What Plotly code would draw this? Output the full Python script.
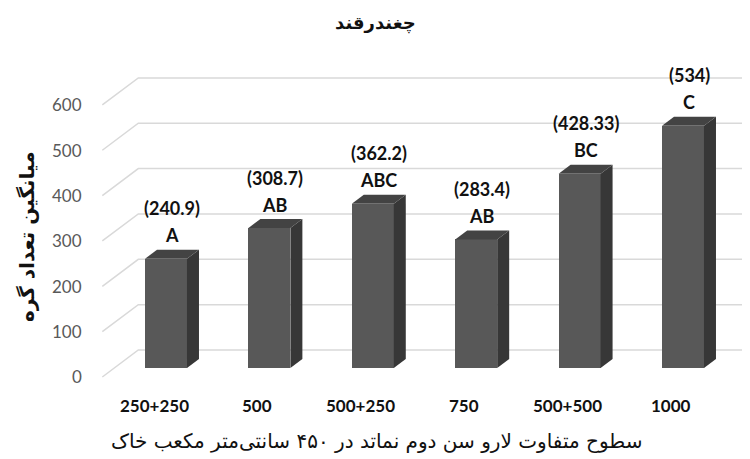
import plotly.graph_objects as go

# ---- data ----
categories = ["250+250", "500", "500+250", "750", "500+500", "1000"]
values = [240.9, 308.7, 362.2, 283.4, 428.33, 534]
value_labels = ["(240.9)", "(308.7)", "(362.2)", "(283.4)", "(428.33)", "(534)"]
letters = ["A", "AB", "ABC", "AB", "BC", "C"]
y_ticks = [0, 100, 200, 300, 400, 500, 600]

title_text = "چغندرقند"
y_title = "میانگین تعداد گره"
x_title = "سطوح متفاوت لارو سن دوم نماتد در ۴۵۰ سانتی‌متر مکعب خاک"

# ---- page geometry (page has 8px body margin) ----
OFF = 8
W, H = 750 - OFF, 459 - OFF
X0_PX, X_STEP = 166, 103.4      # first bar centre and bar spacing (page px)
Y0_PX, Y_SCALE = 368, 0.4535    # zero level of bar front plane and px per unit

# ---- 3D projection helpers (oblique view, depth d from 0=front to 1=back) ----
SX = 0.348    # full-depth x shift in category units
SY = 59.5     # full-depth y shift in value units
D_BAR0, D_BAR1 = 1 / 3, 2 / 3
BAR_W = 0.406


def proj(xc, v, d):
    return xc + SX * (d - D_BAR0), v + SY * (d - D_BAR0)


def px(xp):
    return (xp - OFF) / W


def py(yp):
    return 1 - (yp - OFF) / H


fig = go.Figure()

# gridlines: left side-wall diagonals and back-wall horizontals
x_left, x_right = -0.5, 5.5
shapes = []
for t in y_ticks:
    x0, y0 = proj(x_left, t, 0)
    x1, y1 = proj(x_left, t, 1)
    x2, y2 = proj(x_right, t, 1)
    shapes.append(dict(type="path", xref="x", yref="y", layer="below",
                       path=f"M{x0},{y0} L{x1},{y1} L{x2},{y2}",
                       line=dict(color="#d9d9d9", width=1.5)))

# front faces of bars
fig.add_trace(go.Bar(x=list(range(len(values))), y=values, width=BAR_W,
                     marker=dict(color="#585858", line=dict(width=0)),
                     hoverinfo="skip", showlegend=False))

# side and top faces
for i, v in enumerate(values):
    xl, xr = i - BAR_W / 2, i + BAR_W / 2
    p = [proj(xr, 0, D_BAR0), proj(xr, 0, D_BAR1), proj(xr, v, D_BAR1), proj(xr, v, D_BAR0)]
    fig.add_trace(go.Scatter(x=[q[0] for q in p] + [p[0][0]], y=[q[1] for q in p] + [p[0][1]],
                             fill="toself", fillcolor="#373737", mode="lines",
                             line=dict(width=0, color="#373737"),
                             hoverinfo="skip", showlegend=False))
    p = [proj(xl, v, D_BAR0), proj(xr, v, D_BAR0), proj(xr, v, D_BAR1), proj(xl, v, D_BAR1)]
    fig.add_trace(go.Scatter(x=[q[0] for q in p] + [p[0][0]], y=[q[1] for q in p] + [p[0][1]],
                             fill="toself", fillcolor="#434343", mode="lines",
                             line=dict(width=0, color="#434343"),
                             hoverinfo="skip", showlegend=False))

annotations = []
lab_font = dict(family="Lato, 'DejaVu Sans', sans-serif", size=18, color="#111111")
for i, v in enumerate(values):
    cx, cy = proj(i, v, 0.5)
    annotations.append(dict(x=cx, y=cy, xref="x", yref="y", text=f"<b>{letters[i]}</b>",
                            showarrow=False, yanchor="middle", xanchor="center",
                            yshift=19, font=lab_font))
    annotations.append(dict(x=cx, y=cy, xref="x", yref="y", text=f"<b>{value_labels[i]}</b>",
                            showarrow=False, yanchor="middle", xanchor="center",
                            yshift=46, font=lab_font))
    fx, fy = proj(i, 0, 0)
    annotations.append(dict(x=fx, y=fy, xref="x", yref="y", text=f"<b>{categories[i]}</b>",
                            showarrow=False, yanchor="middle", xanchor="center",
                            yshift=-29, font=dict(family="Lato, sans-serif", size=17, color="#111111")))

for t in y_ticks:
    fx, fy = proj(x_left, t, 0)
    annotations.append(dict(x=fx, y=fy, xref="x", yref="y", text=str(t),
                            showarrow=False, yanchor="middle", xanchor="right", xshift=-18,
                            font=dict(family="Lato, sans-serif", size=17, color="#595959")))

annotations.append(dict(x=px(375), y=py(23), xref="paper", yref="paper",
                        text=f"<b>{title_text}</b>", showarrow=False,
                        xanchor="center", yanchor="middle",
                        font=dict(family="'DejaVu Sans', sans-serif", size=18, color="#111111")))
annotations.append(dict(x=px(27), y=py(237), xref="paper", yref="paper",
                        text=f"<b>{y_title}</b>", showarrow=False, textangle=-90,
                        xanchor="center", yanchor="middle",
                        font=dict(family="'DejaVu Sans', sans-serif", size=20, color="#111111")))
annotations.append(dict(x=px(376), y=py(441), xref="paper", yref="paper",
                        text=x_title, showarrow=False,
                        xanchor="center", yanchor="middle",
                        font=dict(family="'DejaVu Sans', sans-serif", size=20, color="#111111")))

fig.update_layout(
    width=W, height=H,
    margin=dict(l=0, r=0, t=0, b=0),
    paper_bgcolor="white", plot_bgcolor="white",
    xaxis=dict(range=[(OFF - X0_PX) / X_STEP, (750 - X0_PX) / X_STEP], visible=False, fixedrange=True),
    yaxis=dict(range=[(Y0_PX - 459) / Y_SCALE, (Y0_PX - OFF) / Y_SCALE], visible=False, fixedrange=True),
    shapes=shapes,
    annotations=annotations,
    bargap=0,
)

fig.write_html("out.html")
